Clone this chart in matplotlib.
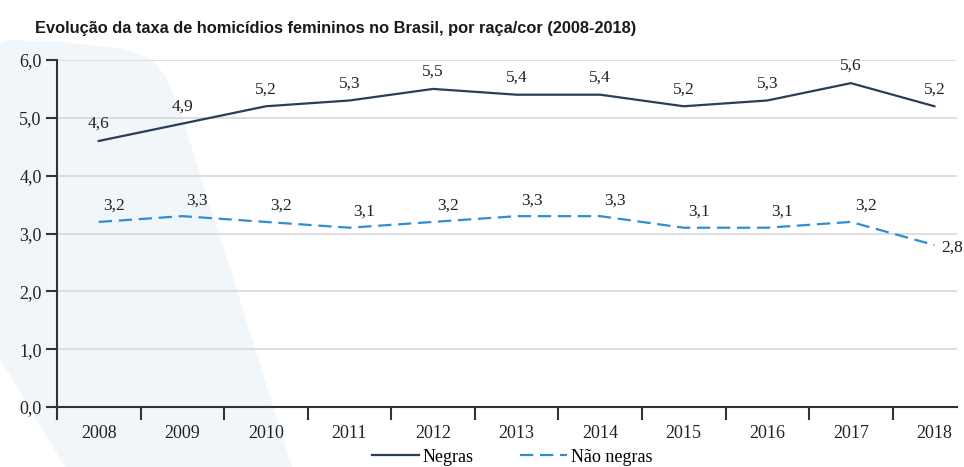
import matplotlib.pyplot as plt
from matplotlib.patches import Polygon
from matplotlib.ticker import FixedLocator, FuncFormatter, NullFormatter

# data
anos = ['2008', '2009', '2010', '2011', '2012', '2013', '2014', '2015', '2016', '2017', '2018']
negras = [4.6, 4.9, 5.2, 5.3, 5.5, 5.4, 5.4, 5.2, 5.3, 5.6, 5.2]
nao_negras = [3.2, 3.3, 3.2, 3.1, 3.2, 3.3, 3.3, 3.1, 3.1, 3.2, 2.8]

cor_negras = '#2c3d5a'
cor_nao = '#2e8fd0'
serif = ['Liberation Serif', 'DejaVu Serif']

W, H = 964, 467
fig = plt.figure(figsize=(W / 100, H / 100), dpi=100)

# decorative pale shape in the background (pixel coords -> figure fraction)
shape_px = [(0, 45), (8, 40), (60, 42), (120, 48), (150, 58), (165, 75), (180, 110),
            (200, 175), (240, 300), (292, 467), (65, 467), (10, 375), (0, 360)]
shape = Polygon([(x / W, 1 - y / H) for x, y in shape_px], closed=True,
                transform=fig.transFigure, facecolor='#f0f6fa', edgecolor='none', zorder=-5)
fig.patches.append(shape)

ax = fig.add_axes([57 / W, 1 - 407 / H, 900 / W, 347 / H])
ax.set_facecolor('none')
ax.set_zorder(2)

x = list(range(len(anos)))
ax.plot(x, negras, color=cor_negras, lw=1.6, label='Negras', zorder=3)
ax.plot(x, nao_negras, color=cor_nao, lw=1.6, ls=(0, (6, 3)), label='Não negras', zorder=3)

def virgula(v):
    return f'{v:.1f}'.replace('.', ',')

for i, v in enumerate(negras):
    ax.annotate(virgula(v), (i, v), xytext=(0, 17), textcoords='offset pixels',
                ha='center', va='center', fontsize=12.5, family=serif, color='#222222')
for i, v in enumerate(nao_negras):
    if i == len(nao_negras) - 1:
        off = (18, -3)
    else:
        off = (15, 16)
    ax.annotate(virgula(v), (i, v), xytext=off, textcoords='offset pixels',
                ha='center', va='center', fontsize=12.5, family=serif, color='#222222')

ax.set_ylim(0, 6)
ax.set_xlim(-0.5, 10.27)
ax.set_yticks([0, 1, 2, 3, 4, 5, 6])
ax.yaxis.set_major_formatter(FuncFormatter(lambda v, p: virgula(v)))
ax.grid(axis='y', color='#d8d8d8', lw=1.2)
ax.set_axisbelow(True)

# category ticks between years, labels centered on years
ax.xaxis.set_major_locator(FixedLocator([i - 0.5 for i in range(len(anos))]))
ax.xaxis.set_major_formatter(NullFormatter())
ax.xaxis.set_minor_locator(FixedLocator(x))
ax.xaxis.set_minor_formatter(FuncFormatter(lambda v, p: anos[int(round(v))]))
ax.tick_params(axis='x', which='minor', length=0, pad=13, labelsize=13)
ax.tick_params(axis='x', which='major', length=9, width=1.5, color='#333333', direction='out')
ax.tick_params(axis='y', length=8, width=1.5, color='#333333', labelsize=13, pad=3)
for lab in ax.get_xticklabels(minor=True) + ax.get_yticklabels():
    lab.set_family(serif)
    lab.set_color('#222222')

for s in ['top', 'right']:
    ax.spines[s].set_visible(False)
for s in ['left', 'bottom']:
    ax.spines[s].set_color('#333333')
    ax.spines[s].set_linewidth(1.5)

fig.text(35 / W, 1 - 28 / H, 'Evolução da taxa de homicídios femininos no Brasil, por raça/cor (2008-2018)',
         fontsize=11.8, fontweight='bold', family=['Liberation Sans', 'DejaVu Sans'],
         color='#1a1a1a', va='center', ha='left')

fig.legend(loc='center', bbox_to_anchor=(512 / W, 1 - 457 / H), ncol=2, frameon=False,
           prop={'family': serif, 'size': 13}, handlelength=2.6, columnspacing=2.6,
           handletextpad=0.2)

fig.savefig('out.png', dpi=100)
